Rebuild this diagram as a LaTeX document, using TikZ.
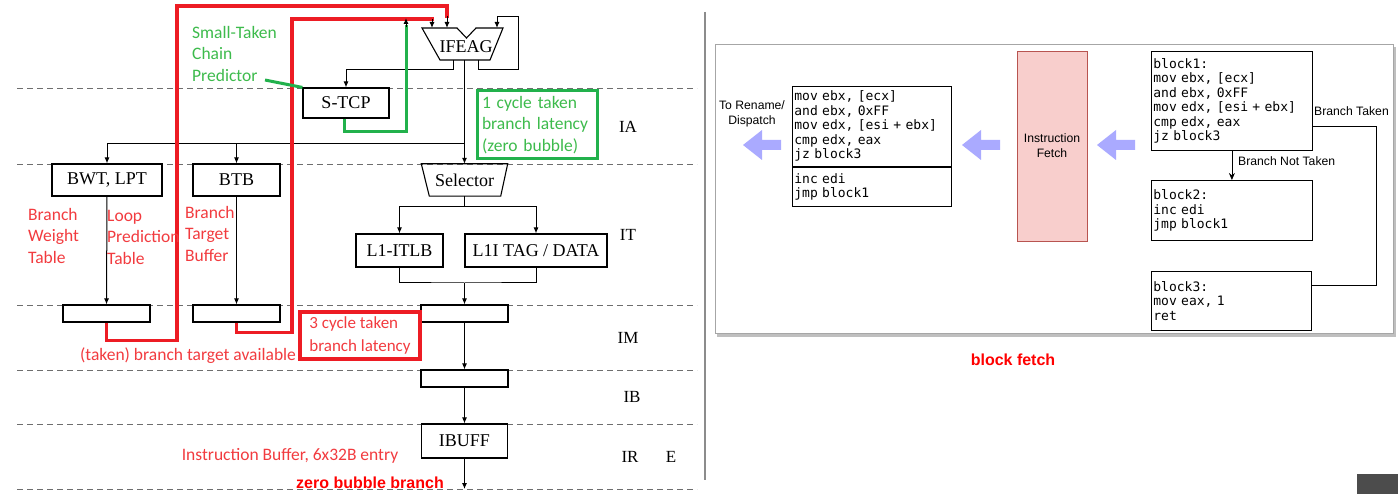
\documentclass[tikz,border=0pt]{standalone}
\usepackage{fontspec}
\setmainfont{Liberation Serif}
\newfontfamily\calibfont{Carlito}
\newfontfamily\arialfont{Liberation Sans}
\newfontfamily\codefont{DejaVu Sans Mono}
\usepackage{tikz}
\usetikzlibrary{arrows.meta,positioning,calc}
\definecolor{PipeRed}{HTML}{ED1C24}
\definecolor{NoteRed}{HTML}{F23B3F}
\definecolor{PipeGreen}{HTML}{22B14C}
\definecolor{NoteGreen}{HTML}{3DBB4C}
\definecolor{PipeGray}{HTML}{6E6E6E}
\definecolor{FetchPink}{HTML}{F8CECC}
\definecolor{FetchEdge}{HTML}{B85450}
\definecolor{FetchBlue}{HTML}{AAAAFF}

\tikzset{
  unitbox/.style={draw, line width=1.1pt, inner sep=0pt, font=\fontsize{18}{20}\selectfont},
  latchbox/.style={draw, line width=1.1pt, minimum width=87pt, minimum height=17pt, inner sep=0pt},
  wire/.style={line width=1pt, -{Latex[length=6pt,width=5pt]}},
  plainwire/.style={line width=1pt},
  stageline/.style={PipeGray, line width=0.9pt, dash pattern=on 6pt off 4pt},
  stagetag/.style={font=\fontsize{17}{20}\selectfont},
  note/.style={font=\calibfont\fontsize{17.5}{21.5}\selectfont, align=left, inner sep=0pt},
  redroute/.style={PipeRed, line width=3.6pt},
  greenroute/.style={PipeGreen, line width=3pt},
  codebox/.style={draw, line width=0.8pt, align=left, anchor=north west, inner xsep=2pt,
    inner ysep=0pt, font=\codefont\fontsize{13}{14.5}\selectfont},
  flowtext/.style={font=\arialfont\fontsize{12.2}{15}\selectfont, inner sep=0pt, align=center},
  boldnote/.style={font=\arialfont\bfseries\fontsize{16}{18}\selectfont, text=red, inner sep=0pt}
}

\begin{document}
\begin{tikzpicture}[x=1pt, y=-1pt]
\useasboundingbox (0,0) rectangle (1398,494);
\fill[white] (0,0) rectangle (1398,494);

% pipeline stage boundaries
\foreach \sy in {88,164,305,370,424,489}
  \draw[stageline] (17,\sy) -- (697,\sy);
\node[stagetag] (tagIA) at (628,127) {IA};
\node[stagetag] (tagIT) at (628,235) {IT};
\node[stagetag] (tagIM) at (628,338) {IM};
\node[stagetag] (tagIB) at (632,397) {IB};
\node[stagetag] (tagIR) at (630,457) {IR};
\node[stagetag] (tagE) at (671,457) {E};

% IFEAG
\draw[line width=1.1pt] (422,28) -- (457,28) -- (466.5,38) -- (476,28) -- (503,28)
  -- (490,60) -- (440,60) -- cycle;
\node[font=\fontsize{18}{20}\selectfont, inner sep=0pt] (ifeag) at (466,47) {IFEAG};
\coordinate (ifeagOut) at (464.5,60);
\coordinate (ifeagLoop) at (478,60);
\coordinate (ifeagTcp) at (453,60);
\coordinate (ifeagInA) at (432,28);
\coordinate (ifeagInB) at (447,28);
\coordinate (ifeagInC) at (497,28);
\coordinate (fanout) at (464.5,144);

% units
\node[unitbox, minimum width=86pt, minimum height=30pt] (stcp) at (346,103) {S-TCP};
\node[unitbox, minimum width=110pt, minimum height=32pt] (bwt) at (107,180) {BWT, LPT};
\node[unitbox, minimum width=87pt, minimum height=32pt] (btb) at (236.5,180) {BTB};
\node[minimum width=86pt, minimum height=32pt, inner sep=0pt,
  font=\fontsize{18}{20}\selectfont] (sel) at (464.5,180) {Selector};
\draw[line width=1.1pt] (sel.north west) -- (sel.north east) -- ([xshift=-7pt]sel.south east)
  -- ([xshift=8pt]sel.south west) -- cycle;
\node[unitbox, minimum width=87pt, minimum height=33pt] (itlb) at (399.5,250.5) {L1-ITLB};
\node[unitbox, minimum width=142pt, minimum height=33pt] (tagdata) at (536,250.5) {L1I TAG / DATA};
\node[latchbox] (latchA) at (106.5,313.5) {};
\node[latchbox] (latchB) at (236.5,313.5) {};
\node[latchbox] (latchC) at (464.5,313.5) {};
\node[latchbox] (latchD) at (464.5,378.5) {};
\node[unitbox, minimum width=86pt, minimum height=34pt] (ibuff) at (464.5,441) {IBUFF};
\coordinate (irEnd) at (464.5,489);

% wiring
\draw[wire] (ifeagOut) -- (sel.north);
\draw[plainwire] (fanout) -- (bwt.north |- fanout);
\draw[wire] (bwt.north |- fanout) -- (bwt.north);
\draw[wire] (btb.north |- fanout) -- (btb.north);
\draw[wire] (ifeagTcp) -- ++(0,10) -| (stcp.north);
\draw[wire] (ifeagLoop) -- ++(0,10) -| (518,17) -| (ifeagInC);
\coordinate (split) at (464.5,207);
\draw[plainwire] (sel.south) -- (split);
\draw[wire] (split) -| (itlb.north);
\draw[wire] (split) -| (tagdata.north);
\coordinate (merge) at (464.5,283);
\draw[plainwire] (itlb.south) |- (merge) -| (tagdata.south);
\draw[wire] (merge) -- (latchC.north);
\draw[wire] (latchC.south) -- (latchD.north);
\draw[wire] (latchD.south) -- (ibuff.north);
\draw[wire] (ibuff.south) -- (irEnd);
\draw[wire] (bwt.south) -- (latchA.north);
\draw[wire] (btb.south) -- (latchB.north);

% taken paths
\draw[redroute] (latchA.south) -- ++(0,18) -| (177,6) -| (447,18);
\draw[wire] (447,16) -- (ifeagInB);
\draw[redroute] (latchB.south) -- ++(0,10) -| (292,19) -| (432,21);
\draw[wire] (432,19) -- (ifeagInA);
\draw[greenroute] ([xshift=-2pt]stcp.south) -- ++(0,13) -| (406,25);
\draw[wire] (406,27) -- (406,18);
\draw[greenroute] (265,80) -- (stcp.north west);

% notes
\node[note, text=NoteGreen, anchor=west] (stcpnote) at (192,53.5) {Small-Taken\\Chain\\Predictor};
\node[note, draw=PipeGreen, line width=3pt, text=NoteGreen, text width=110pt,
  inner xsep=5pt, minimum height=68pt] (onecyc) at (537,125) {1 cycle taken\\branch latency\\(zero bubble)};
\node[note, text=NoteRed, anchor=west] (bwtnote) at (28,235.5) {Branch\\Weight\\Table};
\node[note, text=NoteRed, anchor=west] (lptnote) at (107,237) {Loop\\Prediction\\Table};
\node[note, text=NoteRed, anchor=west] (btbnote) at (185,233.5) {Branch\\Target\\Buffer};
\node[note, draw=PipeRed, line width=3.5pt, text=NoteRed, font=\calibfont\fontsize{17}{22.5}\selectfont,
  minimum width=120pt, minimum height=47pt] (threecyc) at (360,335.5) {3 cycle taken\\branch latency};
\node[note, text=NoteRed] (availnote) at (188,356) {(taken) branch target available};
\node[note, text=NoteRed] (ibufnote) at (290,456) {Instruction Buffer, 6x32B entry};
\node[boldnote] (zbnote) at (370,483) {zero bubble branch};

\draw[black!45, line width=1.5pt] (705,12) -- (705,480);

% block fetch panel
\fill[black!25] (717,47) rectangle (1396,337);
\draw[black!35, fill=white, line width=1pt] (715,45) rectangle (1393,334);

\node[codebox, text width=155pt, minimum height=80pt] (loopA) at (792,86)
  {mov ebx, [ecx]\\and ebx, 0xFF\\mov edx, [esi + ebx]\\cmp edx, eax\\jz block3};
\node[codebox, text width=155pt, minimum height=39pt] (loopB) at (loopA.south west)
  {inc edi\\jmp block1};
\node[flowtext] (rename) at (752,113.5) {To Rename/\\Dispatch};
\node[flowtext, draw=FetchEdge, fill=FetchPink, line width=0.8pt, minimum width=70pt,
  minimum height=190pt] (ifetch) at (1052,146) {Instruction\\Fetch};
\foreach \tip in {743,962,1097}
  \fill[FetchBlue] (\tip,145) -- ++(19,-15) -- ++(0,10) -- ++(19,0) -- ++(0,10)
    -- ++(-19,0) -- ++(0,10) -- cycle;

\node[codebox, text width=157pt, minimum height=99pt] (blkA) at (1151,51)
  {block1:\\mov ebx, [ecx]\\and ebx, 0xFF\\mov edx, [esi + ebx]\\cmp edx, eax\\jz block3};
\node[codebox, text width=157pt, minimum height=60pt] (blkB) at (1151,180)
  {block2:\\inc edi\\jmp block1};
\node[codebox, text width=156pt, minimum height=59pt] (blkC) at (1151,271)
  {block3:\\mov eax, 1\\ret};
\draw[line width=0.8pt, -{Stealth[length=7pt,width=6pt]}] (blkA.south) -- (blkB.north);
\node[flowtext, anchor=west] (nottaken) at (1238,161) {Branch Not Taken};
\draw[line width=0.8pt] (blkA.east |- 0,126) -| (1376,285) -- (blkC.east |- 0,285);
\node[flowtext, anchor=west] (taken) at (1314,111) {Branch Taken};
\node[boldnote] (bfnote) at (1013,360) {block fetch};

\fill[black!70] (1357,474) rectangle (1398,494);
\end{tikzpicture}
\end{document}
